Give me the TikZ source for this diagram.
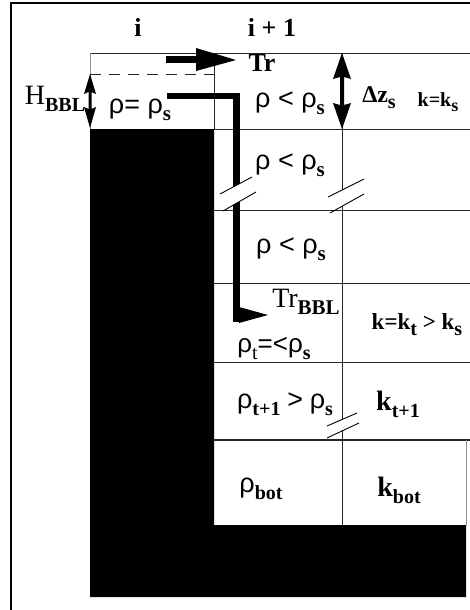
\documentclass[tikz,border=0pt]{standalone}
\usepackage{fontspec}
\setmainfont{Liberation Serif}
\newfontfamily\sy{Liberation Sans}
\newcommand\sbs[2][18]{\raisebox{-0.28em}{\fontsize{#1}{#1}\selectfont\bfseries #2}}
\begin{document}
\begin{tikzpicture}[x=1pt,y=-1pt,
  grid/.style={draw=black!85,line width=0.9pt},
  frame/.style={draw=black,line width=2.4pt},
  lbl/.style={inner sep=0pt,anchor=base},
  bsz/.style={font=\fontsize{#1}{#1}\selectfont\bfseries},
  rsz/.style={font=\fontsize{#1}{#1}\selectfont},
  slash/.style={draw=black,line width=0.9pt},
  gap/.style={fill=white,draw=none}]
\useasboundingbox (0,0) rectangle (470,610);
% frame
\draw[frame] (11,610) -- (11,3) -- (470,3);
% black L-shaped floor
\fill[black] (90,129) -- (214,129) -- (214,525) -- (466,525) -- (466,597) -- (90,597) -- cycle;
% grid
\draw[grid] (90,53) -- (470,53);
\draw[draw=black!45,line width=0.9pt] (90,53) -- (90,129);
\draw[grid] (214,53) -- (214,129);
\draw[grid,dashed,dash pattern=on 11pt off 8pt] (90,74) -- (214,74);
\foreach \yy in {129,210,283,362}{\draw[grid] (214,\yy) -- (470,\yy);}
\draw[grid,line width=1.4pt] (214,440) -- (470,440);
\draw[grid] (342,53) -- (342,525);
\draw[draw=black!45,line width=0.9pt] (466,440) -- (466,525);
% Tr arrow
\fill[black] (166,56.5) rectangle (198,63.5);
\fill[black] (196,48) -- (236,60) -- (196,71) -- cycle;
% L arrow (Tr_BBL)
\fill[black] (167,92.5) rectangle (240,99);
\fill[black] (233,92.5) rectangle (240,322);
\fill[black] (239,307) -- (268,315) -- (239,323) -- cycle;
% Delta z double arrow
\fill[black] (342,53) -- (351,79) -- (344,77) -- (344,105) -- (351,103) -- (342,129)
  -- (333,103) -- (340,105) -- (340,77) -- (333,79) -- cycle;
% H_BBL double arrow
\fill[black] (90,74) -- (96,94) -- (91.5,92) -- (91.5,109) -- (96,107) -- (90,128)
  -- (84,107) -- (88.5,109) -- (88.5,92) -- (84,94) -- cycle;
% break marks
\fill[gap] (230,188.7) -- (242,182.3) -- (242,200) -- (230,207) -- cycle;
\draw[slash] (220,194) -- (252,177);
\draw[slash] (223,211) -- (256,192);
\fill[gap] (339,191.5) -- (345,188.5) -- (345,204.5) -- (339,208) -- cycle;
\draw[slash] (328,197) -- (364,179);
\draw[slash] (330,213) -- (364,194);
\fill[gap] (339,421) -- (345,418.3) -- (345,429.5) -- (339,432.4) -- cycle;
\draw[slash] (327,426) -- (357,413);
\draw[slash] (327,438) -- (359,423);
% labels
\node[lbl,bsz=26] (ti) at (138,37) {i};
\node[lbl,bsz=26] (ti1) at (272,37) {i + 1};
\node[lbl,bsz=26] (tr) at (262,71) {Tr};
\node[lbl,rsz=28] (hbbl) at (55,104) {H\sbs[20]{BBL}};
\node[lbl,rsz=27] (r0) at (140,113) {{\sy ρ= ρ}\sbs[21]{s}};
\node[lbl,rsz=27] (r1) at (290,107) {{\sy ρ < ρ}\sbs[21]{s}};
\node[lbl,bsz=24] (dz) at (379,102) {Δz\sbs[20]{s}};
\node[lbl,bsz=20] (kks) at (438,106) {k=k\sbs[18]{s}};
\node[lbl,rsz=27] (r2) at (290,169) {{\sy ρ < ρ}\sbs[21]{s}};
\node[lbl,rsz=27] (r3) at (291,253) {{\sy ρ < ρ}\sbs[21]{s}};
\node[lbl,rsz=28] (trbbl) at (306,307) {Tr\sbs[21]{BBL}};
\node[lbl,rsz=26] (rt) at (274,352) {{\sy ρ}\raisebox{-0.28em}{\fontsize{20}{20}\selectfont t}{\sy =<ρ}\sbs[20]{s}};
\node[lbl,bsz=23] (kkt) at (417,329) {k=k\sbs[20]{t} > k\sbs[20]{s}};
\node[lbl,rsz=27] (rt1) at (285,408) {{\sy ρ}\sbs[20]{t+1} {\sy >} {\sy ρ}\sbs[20]{s}};
\node[lbl,bsz=28] (kt1) at (398,410) {k\sbs[20]{t+1}};
\node[lbl,rsz=27] (rbot) at (261,492) {{\sy ρ}\sbs[20]{bot}};
\node[lbl,bsz=28] (kbot) at (399,496) {k\sbs[20]{bot}};
\end{tikzpicture}
\end{document}
